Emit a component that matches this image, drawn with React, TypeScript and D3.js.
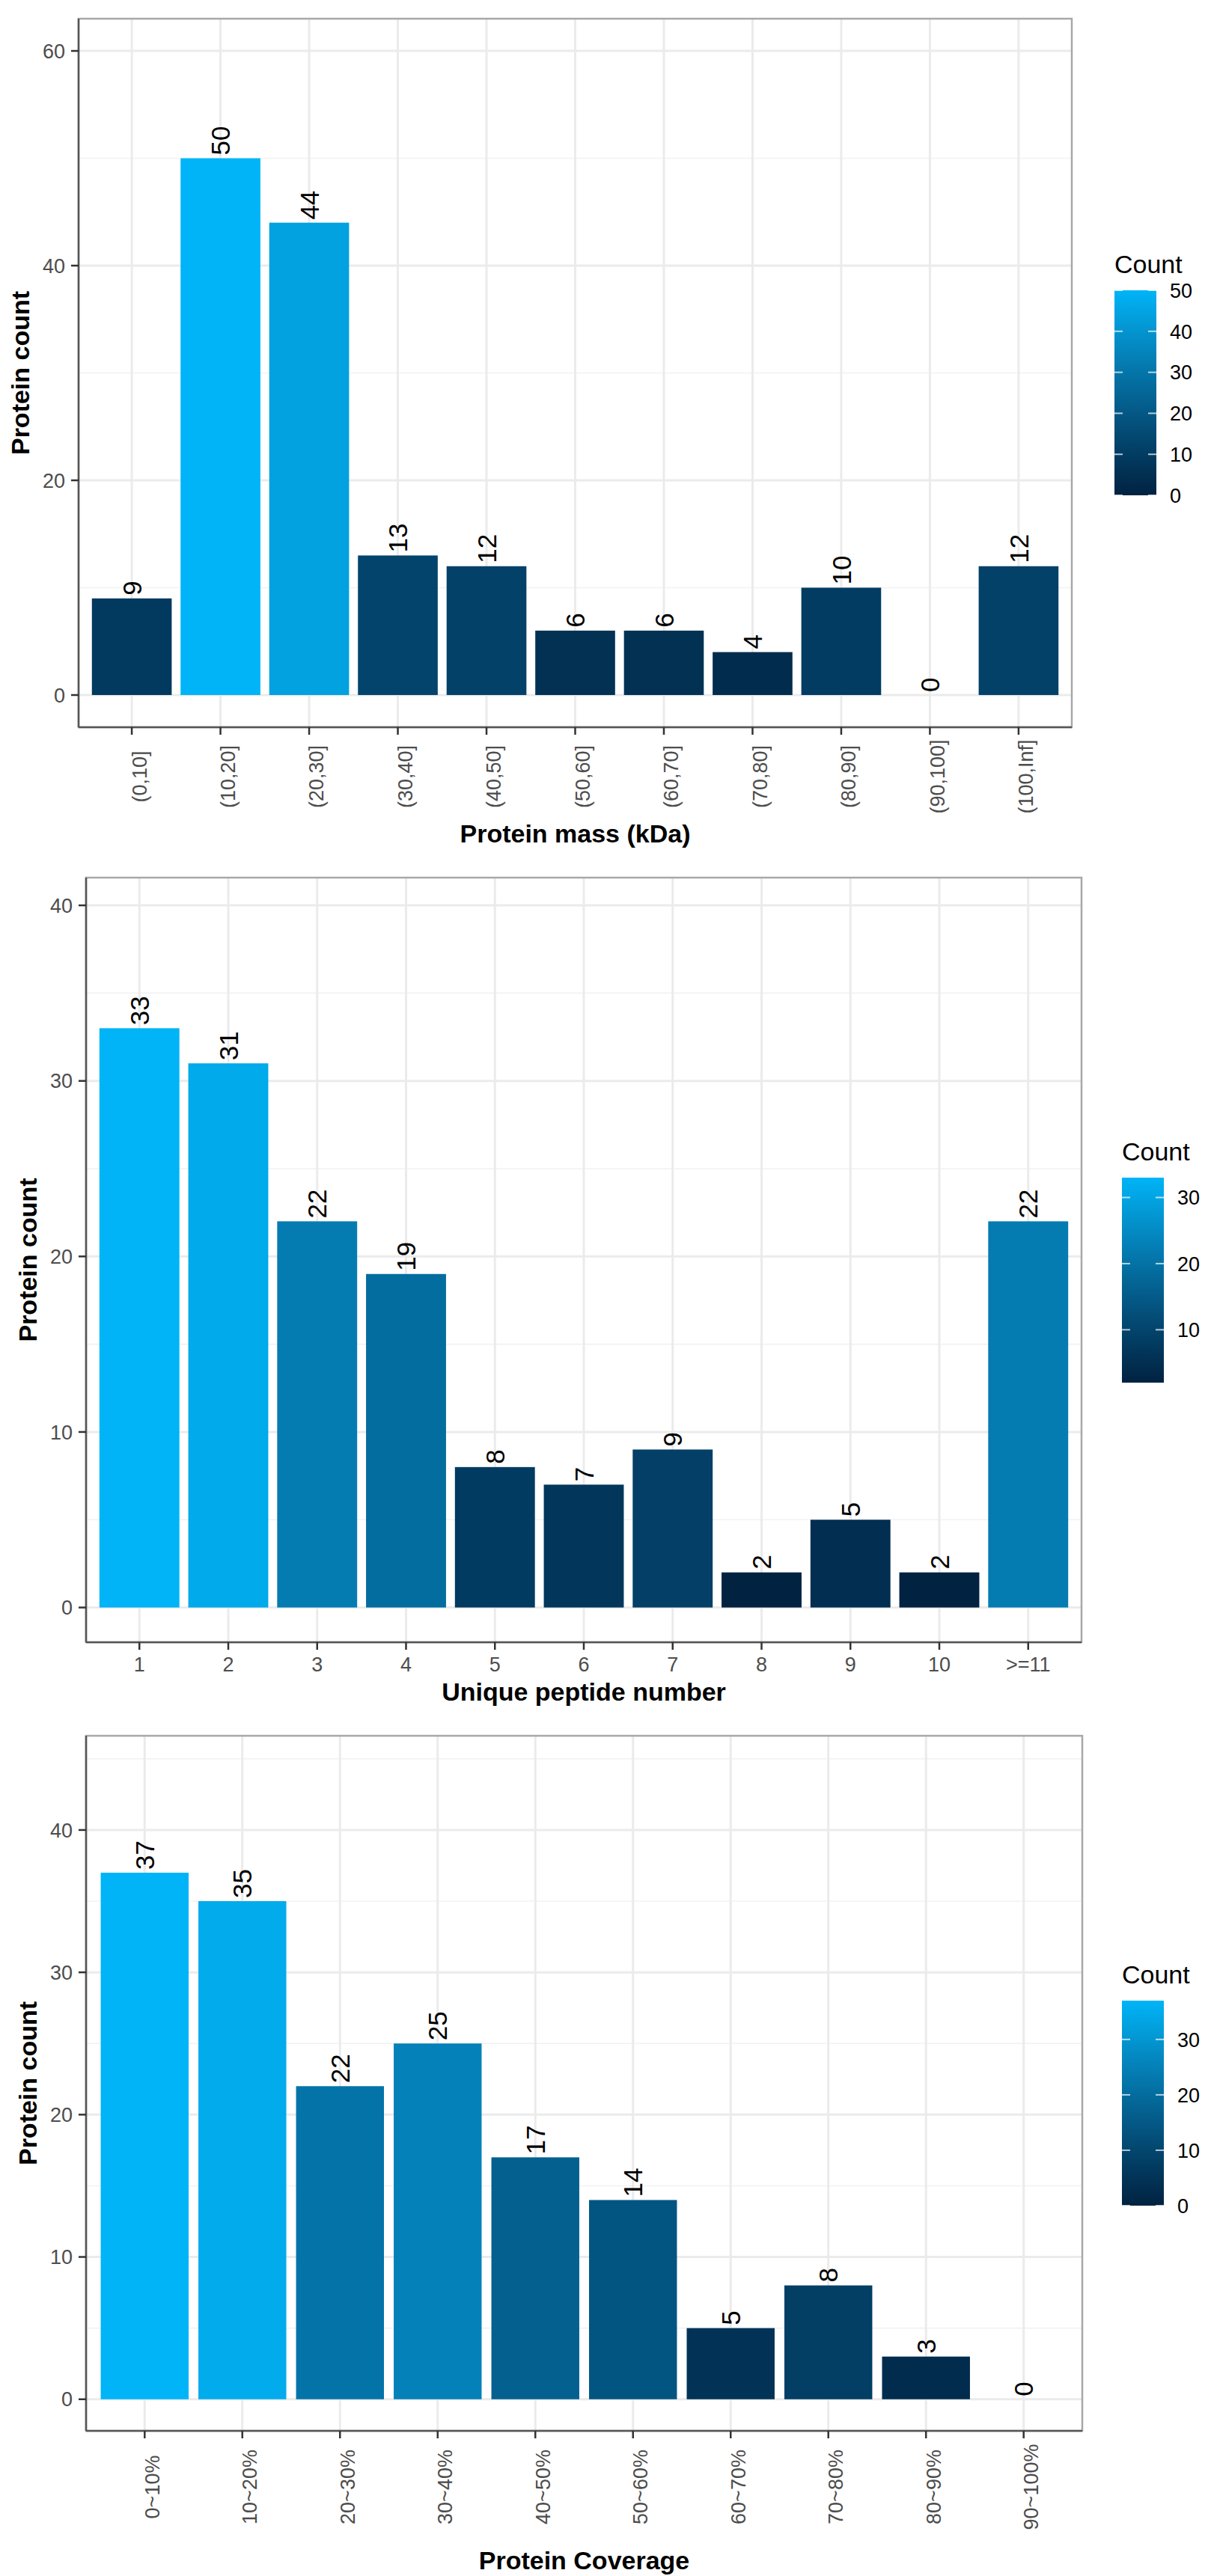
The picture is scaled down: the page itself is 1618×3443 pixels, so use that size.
import React from "react";
import * as d3 from "d3";

// ---- data ----
const massLabels = ["(0,10]", "(10,20]", "(20,30]", "(30,40]", "(40,50]", "(50,60]", "(60,70]", "(70,80]", "(80,90]", "(90,100]", "(100,Inf]"];
const massCounts = [9, 50, 44, 13, 12, 6, 6, 4, 10, 0, 12];

const peptideLabels = ["1", "2", "3", "4", "5", "6", "7", "8", "9", "10", ">=11"];
const peptideCounts = [33, 31, 22, 19, 8, 7, 9, 2, 5, 2, 22];

const coverageLabels = ["0~10%", "10~20%", "20~30%", "30~40%", "40~50%", "50~60%", "60~70%", "70~80%", "80~90%", "90~100%"];
const coverageCounts = [37, 35, 22, 25, 17, 14, 5, 8, 3, 0];

const massYTicks = [0, 20, 40, 60];
const peptideYTicks = [0, 10, 20, 30, 40];
const coverageYTicks = [0, 10, 20, 30, 40];

const massLegendTicks = [0, 10, 20, 30, 40, 50];
const peptideLegendTicks = [10, 20, 30];
const coverageLegendTicks = [0, 10, 20, 30];

const LOW = "#012241";
const HIGH = "#00b4f7";
const FONT = "'Liberation Sans', Arial, Helvetica, sans-serif";

const TICK_FS = 27;
const VALUE_FS = 35;
const TITLE_FS = 34;
const BAR_H = 274;
const BAR_W = 56;

type PanelProps = {
  id: string;
  labels: string[];
  counts: number[];
  yTicks: number[];
  legendTicks: number[];
  xTitle: string;
  left: number;
  right: number;
  top: number;
  bottom: number;
  rotateX: boolean;
  xLabelY: number;
  titleY: number;
  legendX: number;
  legendTop: number;
};

function BarPanel(p: PanelProps) {
  const ymax = (d3.max(p.counts) ?? 0) * 1.2;
  const pad = ymax * 0.05;

  const x = d3
    .scaleBand<string>()
    .domain(p.labels)
    .range([p.left, p.right])
    .paddingInner(0.1)
    .paddingOuter(0.15);

  const y = d3.scaleLinear().domain([-pad, ymax + pad]).range([p.bottom, p.top]);

  const ext = d3.extent(p.counts) as [number, number];
  const color = d3
    .scaleLinear<string>()
    .domain(ext)
    .range([LOW, HIGH])
    .interpolate(d3.interpolateLab);

  // minor breaks halfway between majors (and one step past the ends if inside the panel)
  const step = p.yTicks[1] - p.yTicks[0];
  const minor = [p.yTicks[0] - step / 2, ...p.yTicks.map((t) => t + step / 2)].filter(
    (t) => t > -pad && t < ymax + pad && !p.yTicks.includes(t)
  );

  const ly = d3.scaleLinear().domain(ext).range([p.legendTop + BAR_H, p.legendTop]);
  const stops = d3.range(0, 11).map((i) => i / 10);

  const midX = (p.left + p.right) / 2;
  const midY = (p.top + p.bottom) / 2;

  return (
    <g>
      <defs>
        <linearGradient id={p.id} x1="0" x2="0" y1="1" y2="0">
          {stops.map((s) => (
            <stop key={s} offset={`${s * 100}%`} stopColor={color(ext[0] + s * (ext[1] - ext[0]))} />
          ))}
        </linearGradient>
      </defs>

      {/* grid */}
      {minor.map((t) => (
        <line key={"mn" + t} x1={p.left} x2={p.right} y1={y(t)} y2={y(t)} stroke="#f2f2f2" strokeWidth={1.6} />
      ))}
      {p.yTicks.map((t) => (
        <line key={"mj" + t} x1={p.left} x2={p.right} y1={y(t)} y2={y(t)} stroke="#ebebeb" strokeWidth={3} />
      ))}
      {p.labels.map((l) => {
        const cx = (x(l) ?? 0) + x.bandwidth() / 2;
        return <line key={"vg" + l} x1={cx} x2={cx} y1={p.top} y2={p.bottom} stroke="#ebebeb" strokeWidth={3} />;
      })}

      {/* bars */}
      {p.labels.map((l, i) => (
        <rect
          key={"b" + l}
          x={x(l)}
          width={x.bandwidth()}
          y={y(p.counts[i])}
          height={y(0) - y(p.counts[i])}
          fill={color(p.counts[i])}
        />
      ))}

      {/* value labels */}
      {p.labels.map((l, i) => {
        const cx = (x(l) ?? 0) + x.bandwidth() / 2;
        return (
          <text
            key={"v" + l}
            transform={`translate(${cx + 0.36 * VALUE_FS},${y(p.counts[i]) - 4}) rotate(-90)`}
            fontSize={VALUE_FS}
            fontFamily={FONT}
            fill="#000"
          >
            {p.counts[i]}
          </text>
        );
      })}

      {/* border + axis lines */}
      <rect x={p.left} y={p.top} width={p.right - p.left} height={p.bottom - p.top} fill="none" stroke="#a8a8a8" strokeWidth={2.5} />
      <line x1={p.left} x2={p.left} y1={p.top} y2={p.bottom} stroke="#555" strokeWidth={2.5} />
      <line x1={p.left} x2={p.right} y1={p.bottom} y2={p.bottom} stroke="#555" strokeWidth={2.5} />

      {/* y axis */}
      {p.yTicks.map((t) => (
        <g key={"yt" + t}>
          <line x1={p.left - 10} x2={p.left} y1={y(t)} y2={y(t)} stroke="#333" strokeWidth={2.5} />
          <text
            x={p.left - 18}
            y={y(t) + 0.36 * TICK_FS}
            textAnchor="end"
            fontSize={TICK_FS}
            fontFamily={FONT}
            fill="#4d4d4d"
          >
            {t}
          </text>
        </g>
      ))}
      <text
        transform={`translate(${p.left - 66},${midY}) rotate(-90)`}
        textAnchor="middle"
        fontSize={TITLE_FS}
        fontWeight="bold"
        fontFamily={FONT}
      >
        Protein count
      </text>

      {/* x axis */}
      {p.labels.map((l) => {
        const cx = (x(l) ?? 0) + x.bandwidth() / 2;
        return (
          <g key={"xt" + l}>
            <line x1={cx} x2={cx} y1={p.bottom} y2={p.bottom + 10} stroke="#333" strokeWidth={2.5} />
            {p.rotateX ? (
              <text
                transform={`translate(${cx + 0.72 * TICK_FS},${p.xLabelY}) rotate(-90)`}
                textAnchor="middle"
                fontSize={TICK_FS}
                fontFamily={FONT}
                fill="#4d4d4d"
              >
                {l}
              </text>
            ) : (
              <text x={cx} y={p.xLabelY} textAnchor="middle" fontSize={TICK_FS} fontFamily={FONT} fill="#4d4d4d">
                {l}
              </text>
            )}
          </g>
        );
      })}
      <text x={midX} y={p.titleY} textAnchor="middle" fontSize={TITLE_FS} fontWeight="bold" fontFamily={FONT}>
        {p.xTitle}
      </text>

      {/* legend */}
      <text x={p.legendX} y={p.legendTop - 23} fontSize={TITLE_FS} fontFamily={FONT}>
        Count
      </text>
      <rect x={p.legendX} y={p.legendTop} width={BAR_W} height={BAR_H} fill={`url(#${p.id})`} />
      {p.legendTicks.map((t) => (
        <g key={"lt" + t}>
          <line x1={p.legendX} x2={p.legendX + 11} y1={ly(t)} y2={ly(t)} stroke="#fff" strokeOpacity={0.7} strokeWidth={2} />
          <line x1={p.legendX + BAR_W - 11} x2={p.legendX + BAR_W} y1={ly(t)} y2={ly(t)} stroke="#fff" strokeOpacity={0.7} strokeWidth={2} />
          <text x={p.legendX + BAR_W + 18} y={ly(t) + 0.36 * TICK_FS} fontSize={TICK_FS} fontFamily={FONT} fill="#000">
            {t}
          </text>
        </g>
      ))}
    </g>
  );
}

export default function App() {
  return (
    <svg
      width={1618}
      height={3443}
      style={{ position: "absolute", left: 0, top: 0, background: "#fff" }}
    >
      <rect width={1618} height={3443} fill="#fff" />
      <BarPanel
        id="g1"
        labels={massLabels}
        counts={massCounts}
        yTicks={massYTicks}
        legendTicks={massLegendTicks}
        xTitle="Protein mass (kDa)"
        left={105}
        right={1432}
        top={25}
        bottom={972}
        rotateX={true}
        xLabelY={1038}
        titleY={1126}
        legendX={1489}
        legendTop={388}
      />
      <BarPanel
        id="g2"
        labels={peptideLabels}
        counts={peptideCounts}
        yTicks={peptideYTicks}
        legendTicks={peptideLegendTicks}
        xTitle="Unique peptide number"
        left={115}
        right={1445}
        top={1173}
        bottom={2195}
        rotateX={false}
        xLabelY={2234}
        titleY={2273}
        legendX={1499}
        legendTop={1574}
      />
      <BarPanel
        id="g3"
        labels={coverageLabels}
        counts={coverageCounts}
        yTicks={coverageYTicks}
        legendTicks={coverageLegendTicks}
        xTitle="Protein Coverage"
        left={115}
        right={1446}
        top={2320}
        bottom={3249}
        rotateX={true}
        xLabelY={3324}
        titleY={3434}
        legendX={1499}
        legendTop={2674}
      />
    </svg>
  );
}
